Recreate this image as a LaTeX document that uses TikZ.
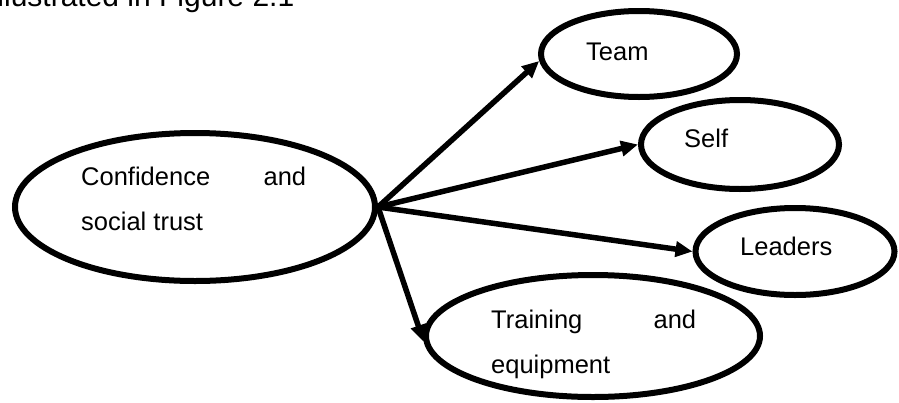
\documentclass[tikz,border=0pt]{standalone}
\usepackage{fontspec}
\setmainfont{Liberation Sans}
\usetikzlibrary{shapes.geometric,arrows.meta}
\tikzset{
  oval/.style={ellipse, draw=black, line width=6pt, inner sep=0pt},
  lbl/.style={anchor=base west, inner sep=0pt, font=\fontsize{25.5}{30}\selectfont},
  arr/.style={line width=5.5pt, -{Triangle[length=17pt,width=15pt]}}
}
\begin{document}
\begin{tikzpicture}[x=1pt,y=-1pt]
\useasboundingbox (0,0) rectangle (899,402);
% partially visible line of text at the top
\node[anchor=base west, inner sep=0pt, font=\fontsize{30}{36}\selectfont] (cap) at (-9.4,6) {illustrated in Figure 2.1};
% ellipses
\node[oval, minimum width=360pt, minimum height=148pt] (main) at (195,207) {};
\node[oval, minimum width=196pt, minimum height=86pt] (team) at (639,54) {};
\node[oval, minimum width=198pt, minimum height=89pt] (self) at (740,144.5) {};
\node[oval, minimum width=199pt, minimum height=87pt] (leaders) at (795,251.5) {};
\node[oval, minimum width=334pt, minimum height=122pt] (training) at (593,336) {};
% texts
\node[lbl] (t1a) at (81,185) {\makebox[225pt][l]{Confidence\hfill and}};
\node[lbl] (t1b) at (81,230) {social trust};
\node[lbl] (t2) at (586,60) {Team};
\node[lbl] (t3) at (684,147) {Self};
\node[lbl] (t4) at (740,255) {Leaders};
\node[lbl] (t5a) at (491,328) {\makebox[205pt][l]{Training\hfill and}};
\node[lbl] (t5b) at (491,373) {equipment};
% arrows
\draw[arr] (main.east) -- (team.184);
\draw[arr] (main.east) -- (self.west);
\draw[arr] (main.east) -- (leaders.west);
\draw[arr] (main.east) -- (training.182);
\end{tikzpicture}
\end{document}
